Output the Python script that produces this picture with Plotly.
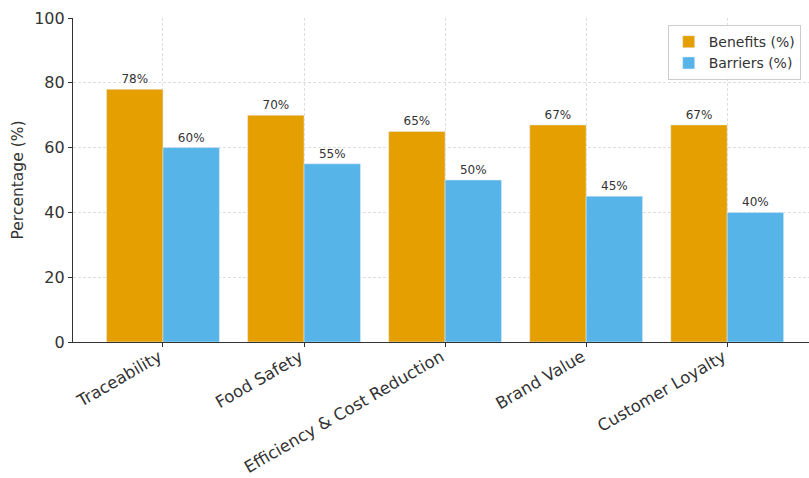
import plotly.graph_objects as go

categories = ["Traceability", "Food Safety", "Efficiency & Cost Reduction", "Brand Value", "Customer Loyalty"]
benefits = [78, 70, 65, 67, 67]
barriers = [60, 55, 50, 45, 40]
y_ticks = [0, 20, 40, 60, 80, 100]

FONT = "DejaVu Sans"
TXT = "#333333"
xs = list(range(len(categories)))

fig = go.Figure()
fig.add_trace(go.Bar(
    x=xs, y=benefits, name="Benefits (%)", marker_color="#E69F00",
    width=0.4, offset=-0.4,
    text=[f"{v}%" for v in benefits], textposition="outside",
    textfont=dict(family=FONT, size=12, color=TXT), cliponaxis=False,
))
fig.add_trace(go.Bar(
    x=xs, y=barriers, name="Barriers (%)", marker_color="#56B4E9",
    width=0.4, offset=0.0,
    text=[f"{v}%" for v in barriers], textposition="outside",
    textfont=dict(family=FONT, size=12, color=TXT), cliponaxis=False,
))

fig.update_layout(
    width=809, height=478,
    margin=dict(l=73, r=0, t=18, b=136, autoexpand=False),
    plot_bgcolor="white", paper_bgcolor="white",
    font=dict(family=FONT, color=TXT),
    barmode="overlay",
    showlegend=True,
    legend=dict(
        x=0.808, y=0.978, xanchor="left", yanchor="top",
        bordercolor="#cccccc", borderwidth=1, bgcolor="rgba(255,255,255,0.9)",
        font=dict(family=FONT, size=14, color=TXT),
        traceorder="normal",
    ),
    xaxis=dict(
        range=[-0.638, 4.58], automargin=False,
        tickmode="array", tickvals=xs, ticktext=categories,
        tickangle=-30, tickfont=dict(family=FONT, size=16.5, color=TXT),
        ticklabelstandoff=-6, ticklabelshift=-4,
        showgrid=True, gridcolor="#dedede", griddash="3px,2px", gridwidth=1,
        showline=True, linecolor="#333333", linewidth=1.2,
        ticks="outside", ticklen=4, tickcolor="#333333",
        zeroline=False,
    ),
    yaxis=dict(
        range=[0, 100], automargin=False,
        tickmode="array", tickvals=y_ticks,
        tickfont=dict(family=FONT, size=16, color=TXT),
        title=dict(text="Percentage (%)", font=dict(family=FONT, size=15.5, color=TXT), standoff=6),
        showgrid=True, gridcolor="#dedede", griddash="3px,2px", gridwidth=1,
        showline=True, linecolor="#333333", linewidth=1.2,
        ticks="outside", ticklen=4, tickcolor="#333333",
        zeroline=False,
    ),
)

fig.write_html("out.html")
